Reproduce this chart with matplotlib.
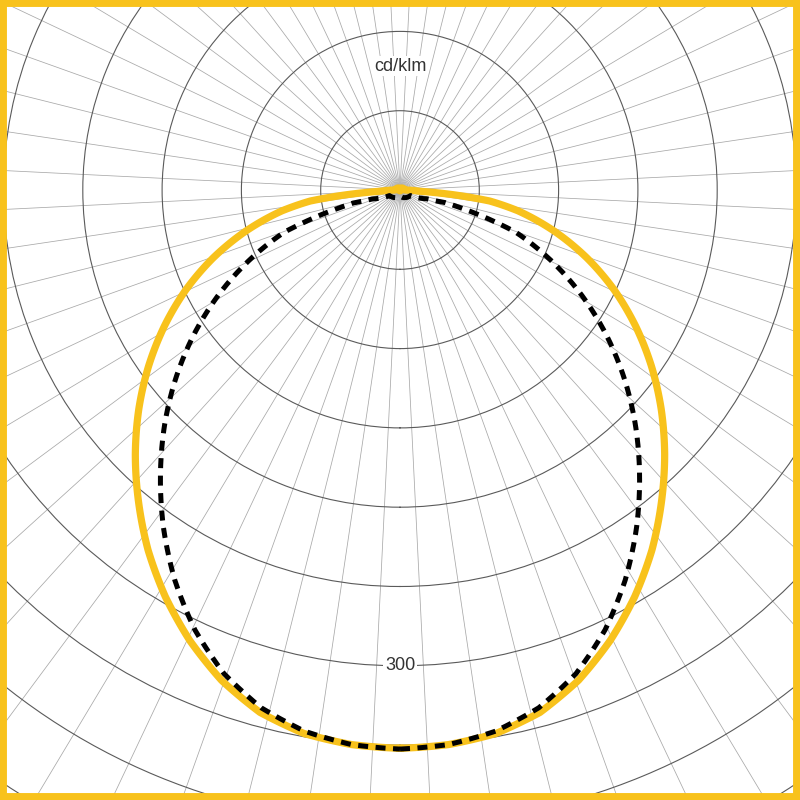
import numpy as np
import matplotlib
matplotlib.use("Agg")
import matplotlib.pyplot as plt
from matplotlib.patches import Rectangle

# DATA ##########################################################
# luminous intensity in cd/klm, half plane (mirrored for the other side)
# angle in degrees measured from nadir
solid_angles = [0, 5, 10, 15, 20, 25, 30, 35, 40, 45, 50, 55, 60, 65, 70, 75, 80, 83, 85, 86.5, 90, 180]
solid_values = [352, 351, 348, 341, 329, 313.5, 296, 277, 256.5, 236, 215, 193.5, 171.5, 149, 125.5, 101, 75.5, 57, 33, 12, 3, 0.5]

dashed_angles = [0, 5, 10, 15, 20, 25, 30, 35, 40, 45, 50, 55, 60, 65, 70, 72.5, 74.5, 72, 62, 0]
dashed_values = [352.5, 351, 346.5, 338, 324.5, 306, 284, 260, 235, 210, 184.5, 158.5, 132, 105, 77.5, 53, 30, 18, 7.5, 3.8]

ring_values = [50, 100, 150, 200, 250, 300, 350, 400, 450]
ring_label = 300
unit_label = "cd/klm"
n_spokes = 64

# STYLE #########################################################
yellow = "#F8C21C"
ring_color = "#5a5a5a"
spoke_color = "#a8a8a8"
text_color = "#333333"
font = ["Liberation Sans", "DejaVu Sans"]

# center of diagram in figure fraction, radius of axes in figure fraction
cx, cy = 0.5, 1 - 190 / 800
rmax = 500
half = rmax * (79.3 / 50) / 800


def mirror(angles, values):
	a = np.radians(np.array(angles, dtype=float))
	v = np.array(values, dtype=float)
	th = np.concatenate([a, -a[::-1]])
	r = np.concatenate([v, v[::-1]])
	return th, r


def smooth(line, steps=40):
	# let the polar transform draw each segment as a curve, not a chord
	line._path._interpolation_steps = steps
	return line


fig = plt.figure(figsize=(8, 8), dpi=100)
ax = fig.add_axes([cx - half, cy - half, 2 * half, 2 * half], projection="polar")
ax.set_theta_zero_location("S")
ax.set_ylim(0, rmax)
ax.spines["polar"].set_visible(False)
ax.set_facecolor("white")

# grid
spokes = (np.arange(n_spokes) + 0.5) * 360.0 / n_spokes
ax.set_thetagrids(spokes, labels=[""] * n_spokes)
ax.set_rgrids(ring_values, labels=[""] * len(ring_values))
ax.xaxis.grid(True, color=spoke_color, lw=0.55)
ax.yaxis.grid(True, color=ring_color, lw=0.8)
ax.tick_params(axis="both", which="both", length=0, width=0)

# curves
th, r = mirror(solid_angles, solid_values)
smooth(ax.plot(th, r, color=yellow, lw=5.2, solid_joinstyle="round", zorder=3)[0])
th, r = mirror(dashed_angles, dashed_values)
smooth(ax.plot(th, r, color="black", lw=3.6, linestyle=(0, (2.0, 1.5)), zorder=4)[0])

# labels
ax.text(0, ring_label, str(ring_label), ha="center", va="center", fontsize=13,
	color=text_color, family=font, zorder=5,
	bbox=dict(facecolor="white", edgecolor="none", pad=1.0))
ax.text(np.pi, 78, unit_label, ha="center", va="center", fontsize=13,
	color=text_color, family=font, zorder=5,
	bbox=dict(facecolor="white", edgecolor="none", pad=1.0))

# yellow frame
fig.patches.append(Rectangle((0, 0), 1, 1, transform=fig.transFigure, fill=False,
	edgecolor=yellow, lw=10, zorder=10))

fig.savefig("out.png", dpi=100, facecolor="white")
